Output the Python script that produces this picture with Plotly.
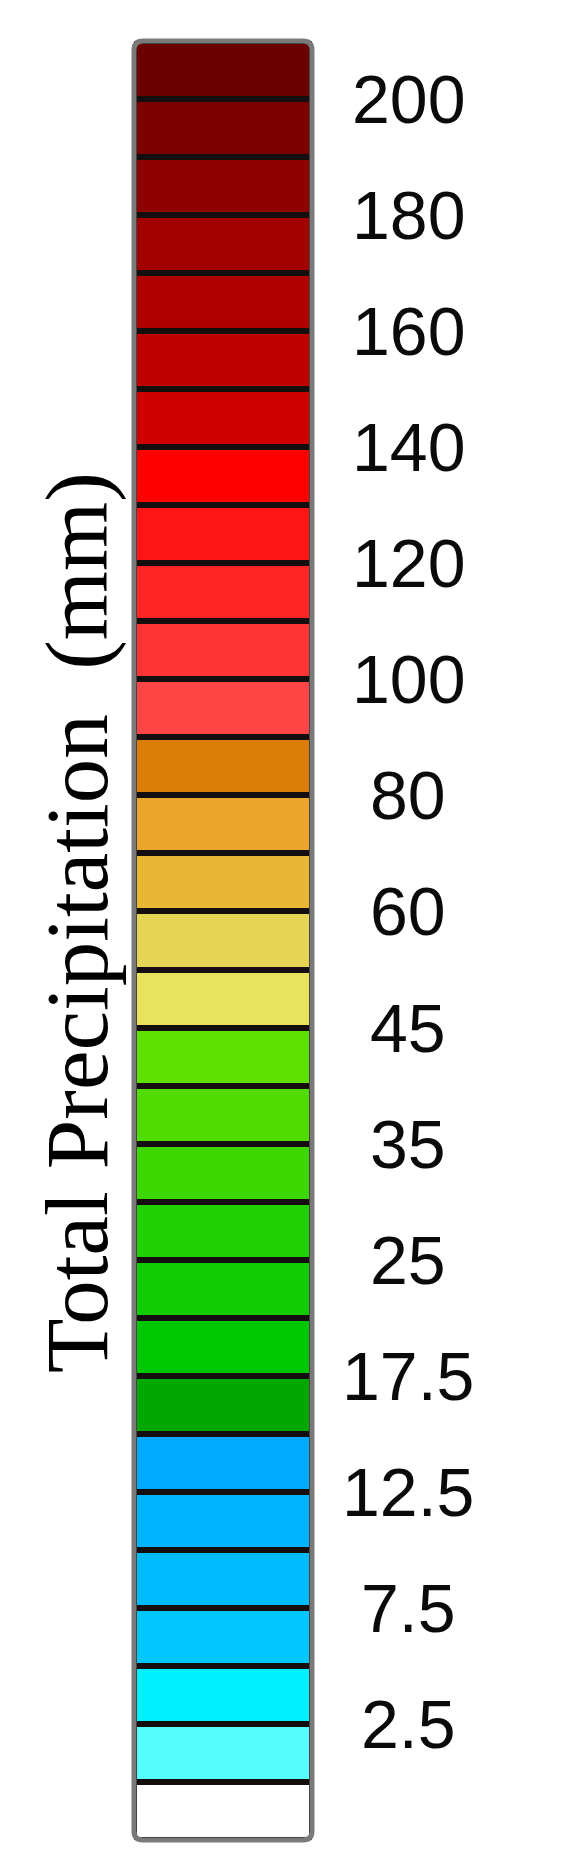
import plotly.graph_objects as go

# ---- data (bottom to top) ----
box_colors = [
    "#ffffff", "#55ffff", "#00f0ff", "#00c8ff", "#00bcff", "#00b4ff", "#00aaff",
    "#00a800", "#00c800", "#10cc00", "#20d000", "#3cd600", "#50dc00", "#5ee000",
    "#e8e25c", "#e6d455", "#e9b734", "#eaa52a", "#dc7d08",
    "#ff4545", "#ff3535", "#ff2525", "#ff1515", "#ff0000",
    "#d00000", "#c00000", "#b00000", "#a30000", "#8f0000", "#7d0000", "#6a0000",
]
box_size = [1] * len(box_colors)
tick_labels = ["2.5", "7.5", "12.5", "17.5", "25", "35", "45", "60",
               "80", "100", "120", "140", "160", "180", "200"]
# boundary index (counted from the bottom) at which each label sits
tick_boundary = [2, 4, 6, 8, 10, 12, 14, 16, 18, 20, 22, 24, 26, 28, 30]
title_text = "Total Precipitation\u00a0\u00a0(mm)"

# page offset of 8px (body margin) compensated
W, H = 562, 1845
L, R, T, B = 126, 258, 33, 13
pw = W - L - R
ph = H - T - B

bases = [sum(box_size[:i]) for i in range(len(box_size))]

fig = go.Figure()
fig.add_trace(go.Bar(
    x=[0] * len(box_size), y=box_size, base=bases, width=1,
    marker=dict(color=box_colors, line=dict(color="#140e0e", width=6)),
    hoverinfo="skip", showlegend=False,
))

annotations = []
for lab, yb in zip(tick_labels, tick_boundary):
    annotations.append(dict(
        x=(400 - L) / pw, xref="paper", y=yb, yref="y",
        text=lab, showarrow=False, xanchor="center", yanchor="middle",
        font=dict(family="Liberation Sans, Arial, sans-serif",
                  size=68, color="#0a0a0a"),
    ))
annotations.append(dict(
    x=(69 - L) / pw, xref="paper", y=(H - B - 915) / ph, yref="paper",
    text=title_text, textangle=-90, showarrow=False,
    xanchor="center", yanchor="middle",
    font=dict(family="Liberation Serif, Times New Roman, serif", size=89, color="#000000"),
))

# rounded gray frame
rx, ry = 9 / pw, 9 / ph
x0, x1, y0, y1 = 0, 1, 0, 1
path = (f"M {x0+rx},{y0} L {x1-rx},{y0} Q {x1},{y0} {x1},{y0+ry} "
        f"L {x1},{y1-ry} Q {x1},{y1} {x1-rx},{y1} L {x0+rx},{y1} "
        f"Q {x0},{y1} {x0},{y1-ry} L {x0},{y0+ry} Q {x0},{y0} {x0+rx},{y0} Z")

fig.update_layout(
    width=W, height=H,
    margin=dict(l=L, r=R, t=T, b=B),
    paper_bgcolor="white", plot_bgcolor="white",
    xaxis=dict(range=[-0.5, 0.5], visible=False, fixedrange=True),
    yaxis=dict(range=[0, len(box_size)], visible=False, fixedrange=True),
    annotations=annotations,
    shapes=[dict(type="path", path=path, xref="paper", yref="paper",
                 line=dict(color="#7a7a7a", width=5), layer="above")],
    bargap=0,
)

fig.write_html("out.html")
